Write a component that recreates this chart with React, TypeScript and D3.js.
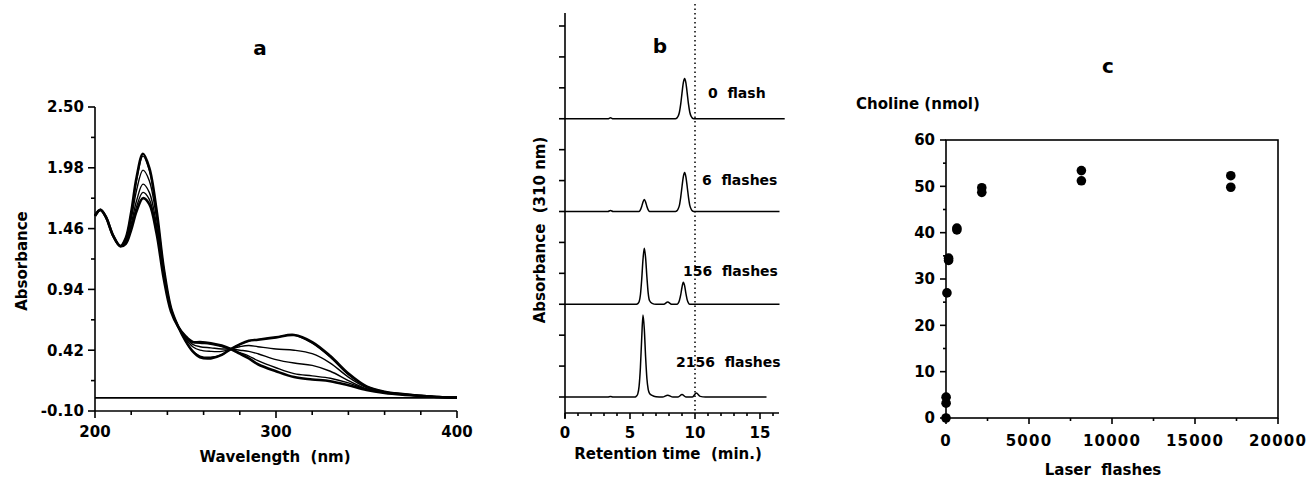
import React from 'react';
import * as d3 from 'd3';

// ---------- Panel a data (UV spectra) ----------
const wavelengths = [200, 203, 206, 210, 214, 217, 220, 223, 226.5, 230, 234, 238, 242, 246, 250, 254, 258, 264, 270, 275, 280, 285, 290, 300, 310, 320, 330, 340, 350, 360, 370, 380, 390, 400];
const spectrum0 = [1.57, 1.62, 1.56, 1.40, 1.31, 1.38, 1.60, 1.90, 2.10, 1.98, 1.62, 1.12, 0.78, 0.62, 0.50, 0.41, 0.36, 0.35, 0.38, 0.43, 0.47, 0.50, 0.51, 0.53, 0.55, 0.49, 0.37, 0.22, 0.11, 0.065, 0.045, 0.03, 0.02, 0.015];
const spectrum1 = [1.57, 1.62, 1.56, 1.40, 1.31, 1.38, 1.59, 1.88, 2.08, 1.96, 1.61, 1.12, 0.78, 0.62, 0.50, 0.41, 0.37, 0.36, 0.38, 0.43, 0.47, 0.50, 0.51, 0.53, 0.55, 0.48, 0.36, 0.21, 0.11, 0.065, 0.045, 0.03, 0.02, 0.015];
const spectrum2 = [1.57, 1.62, 1.56, 1.40, 1.31, 1.36, 1.54, 1.79, 1.96, 1.87, 1.55, 1.09, 0.77, 0.62, 0.52, 0.45, 0.42, 0.41, 0.41, 0.43, 0.45, 0.46, 0.45, 0.43, 0.42, 0.39, 0.31, 0.19, 0.10, 0.06, 0.042, 0.03, 0.02, 0.015];
const spectrum3 = [1.57, 1.62, 1.56, 1.40, 1.31, 1.35, 1.50, 1.70, 1.84, 1.77, 1.49, 1.06, 0.76, 0.62, 0.53, 0.47, 0.45, 0.44, 0.43, 0.43, 0.42, 0.41, 0.39, 0.34, 0.31, 0.29, 0.24, 0.16, 0.09, 0.058, 0.04, 0.03, 0.02, 0.015];
const spectrum4 = [1.57, 1.62, 1.56, 1.40, 1.31, 1.34, 1.47, 1.65, 1.77, 1.71, 1.45, 1.04, 0.76, 0.62, 0.54, 0.49, 0.48, 0.47, 0.45, 0.43, 0.40, 0.37, 0.33, 0.27, 0.22, 0.20, 0.18, 0.14, 0.085, 0.055, 0.04, 0.03, 0.02, 0.015];
const spectrum5 = [1.57, 1.62, 1.56, 1.40, 1.31, 1.33, 1.45, 1.61, 1.72, 1.67, 1.42, 1.03, 0.75, 0.62, 0.54, 0.49, 0.49, 0.48, 0.46, 0.43, 0.39, 0.35, 0.30, 0.24, 0.19, 0.17, 0.155, 0.12, 0.08, 0.055, 0.04, 0.03, 0.02, 0.015];
const spectra = [spectrum0, spectrum1, spectrum2, spectrum3, spectrum4, spectrum5];
const baselineA = 0.012;
const aYTicks = [-0.10, 0.42, 0.94, 1.46, 1.98, 2.50];
const aXTicks = [200, 300, 400];

// ---------- Panel b data (chromatograms, [min, absorbance]) ----------
const trace0flash = [[0, 0], [3.3, 0], [3.5, 0.03], [3.7, 0], [8.5, 0], [8.6, 0.02], [8.7, 0.08], [8.8, 0.21], [8.9, 0.47], [9.0, 0.83], [9.1, 1.16], [9.2, 1.30], [9.3, 1.16], [9.4, 0.83], [9.5, 0.47], [9.6, 0.21], [9.7, 0.08], [9.8, 0.02], [9.9, 0], [16.9, 0]];
const trace6flashes = [[0, 0], [3.3, 0], [3.5, 0.03], [3.7, 0], [5.7, 0], [5.8, 0.05], [5.9, 0.16], [6.0, 0.31], [6.1, 0.39], [6.2, 0.31], [6.3, 0.16], [6.4, 0.05], [6.5, 0], [8.5, 0], [8.6, 0.02], [8.7, 0.08], [8.8, 0.2], [8.9, 0.46], [9.0, 0.8], [9.1, 1.12], [9.2, 1.26], [9.3, 1.12], [9.4, 0.8], [9.5, 0.46], [9.6, 0.2], [9.7, 0.08], [9.8, 0.02], [9.9, 0], [16.5, 0]];
const trace156flashes = [[0, 0], [5.5, 0], [5.6, 0.02], [5.7, 0.08], [5.8, 0.3], [5.9, 0.8], [6.0, 1.45], [6.1, 1.81], [6.2, 1.5], [6.3, 0.88], [6.4, 0.36], [6.5, 0.12], [6.7, 0.03], [7.0, 0], [7.6, 0], [7.9, 0.07], [8.2, 0], [8.6, 0], [8.7, 0.03], [8.8, 0.12], [8.9, 0.3], [9.0, 0.55], [9.1, 0.71], [9.2, 0.6], [9.3, 0.35], [9.4, 0.14], [9.5, 0.04], [9.6, 0], [16.5, 0]];
const trace2156flashes = [[0, 0], [3.3, 0], [3.5, 0.02], [3.7, 0], [5.4, 0], [5.5, 0.03], [5.6, 0.1], [5.7, 0.35], [5.8, 0.95], [5.9, 1.9], [6.0, 2.65], [6.1, 2.2], [6.2, 1.3], [6.3, 0.6], [6.4, 0.25], [6.5, 0.12], [6.7, 0.05], [7.0, 0.01], [7.5, 0], [7.9, 0.06], [8.3, 0], [8.7, 0], [9.0, 0.08], [9.3, 0], [9.8, 0], [10.1, 0.13], [10.4, 0.02], [10.8, 0], [15.5, 0]];
const chromatograms = [trace0flash, trace6flashes, trace156flashes, trace2156flashes];
const chromOffsets = [9, 6, 3, 0];
const chromLabels = ['0  flash', '6  flashes', '156  flashes', '2156  flashes'];
const bXTicks = [0, 5, 10, 15];
const bYTicks = [0, 1, 2, 3, 4, 5, 6, 7, 8, 9, 10, 11, 12];
const dottedTime = 10;

// ---------- Panel c data (choline release) ----------
const laserFlashes = [0, 6, 6, 56, 156, 156, 656, 656, 2156, 2156, 8156, 8156, 17156, 17156];
const cholineNmol = [0, 3.2, 4.5, 27, 34.5, 34.0, 40.6, 41.0, 49.7, 48.7, 53.4, 51.2, 52.3, 49.8];
const cYTicks = [0, 10, 20, 30, 40, 50, 60];
const cXTicks = [0, 5000, 10000, 15000, 20000];

const FONT = '"DejaVu Sans", Verdana, sans-serif';
const txt = { fontFamily: FONT, fontWeight: 'bold' as const, fill: '#000' };

export default function App() {
  // Panel a scales
  const xA = d3.scaleLinear().domain([200, 400]).range([95, 457]);
  const yA = d3.scaleLinear().domain([-0.10, 2.50]).range([411, 107]);
  const lineA = d3.line<[number, number]>().x(d => xA(d[0])).y(d => yA(d[1])).curve(d3.curveCatmullRom.alpha(0.5));
  const aMinorX = d3.range(200, 401, 20);
  const aMinorY = d3.range(0, 11).map(i => -0.10 + i * 0.26);

  // Panel b scales
  const xB = d3.scaleLinear().domain([0, 15]).range([565, 760]);
  const yB = d3.scaleLinear().domain([0, 12]).range([397, 26]);
  const lineB = d3.line<number[]>().x(d => xB(d[0])).y(d => d[1]).curve(d3.curveMonotoneX);
  const bMinorX = d3.range(0, 17, 1);
  const bLabelPos = [[708, 98], [702, 185], [683, 276], [676, 367]];

  // Panel c scales
  const xC = d3.scaleLinear().domain([0, 20000]).range([946, 1278]);
  const yC = d3.scaleLinear().domain([0, 60]).range([418, 140]);
  const cMinorX = d3.range(0, 20001, 2500);
  const cMinorY = d3.range(0, 61, 5);

  const ax = { stroke: '#000', strokeWidth: 1.6, fill: 'none' };

  return (
    <svg width={1310} height={479} style={{ position: 'absolute', left: 0, top: 0, background: '#fff' }}>
      <rect x={0} y={0} width={1310} height={479} fill="#fff" />

      {/* ================= Panel a ================= */}
      <text x={260} y={55} textAnchor="middle" fontSize={20} style={txt}>a</text>
      {/* baseline */}
      <line x1={xA(200)} x2={xA(400)} y1={yA(baselineA)} y2={yA(baselineA)} stroke="#000" strokeWidth={1.6} />
      {spectra.map((s, i) => (
        <path key={i} d={lineA(wavelengths.map((w, j) => [w, s[j]] as [number, number])) || ''}
          fill="none" stroke="#000" strokeWidth={i === 0 || i === 5 ? 2.6 : 1.4} strokeLinejoin="round" />
      ))}
      {/* axes */}
      <line x1={xA(200)} x2={xA(200)} y1={yA(2.50)} y2={yA(-0.10)} {...ax} />
      <line x1={xA(200)} x2={xA(400)} y1={yA(-0.10)} y2={yA(-0.10)} {...ax} />
      {aMinorY.map((v, i) => (
        <line key={'amy' + i} x1={xA(200) - (i % 2 === 0 ? 7 : 4)} x2={xA(200)} y1={yA(v)} y2={yA(v)} {...ax} />
      ))}
      {aMinorX.map((v, i) => (
        <line key={'amx' + i} x1={xA(v)} x2={xA(v)} y1={yA(-0.10)} y2={yA(-0.10) + (v % 100 === 0 ? 7 : 4)} {...ax} />
      ))}
      {aYTicks.map(v => (
        <text key={'ayt' + v} x={84} y={yA(v)} dy="0.36em" textAnchor="end" fontSize={15} style={txt}>{v.toFixed(2)}</text>
      ))}
      {aXTicks.map(v => (
        <text key={'axt' + v} x={xA(v)} y={437} textAnchor="middle" fontSize={15} style={txt}>{v}</text>
      ))}
      <text x={275} y={462} textAnchor="middle" fontSize={15} style={{ ...txt, whiteSpace: 'pre' }}>{'Wavelength  (nm)'}</text>
      <text transform="translate(27,261) rotate(-90)" textAnchor="middle" fontSize={15} style={txt}>Absorbance</text>

      {/* ================= Panel b ================= */}
      <text x={660} y={53} textAnchor="middle" fontSize={20} style={txt}>b</text>
      <line x1={xB(dottedTime)} x2={xB(dottedTime)} y1={4} y2={411} stroke="#000" strokeWidth={1.5} strokeDasharray="1.5,3" />
      {chromatograms.map((tr, i) => (
        <path key={'tr' + i} d={lineB(tr.map(p => [p[0], yB(chromOffsets[i] + p[1])])) || ''}
          fill="none" stroke="#000" strokeWidth={1.5} strokeLinejoin="round" />
      ))}
      {chromLabels.map((l, i) => (
        <text key={'cl' + i} x={bLabelPos[i][0]} y={bLabelPos[i][1]} fontSize={14} style={{ ...txt, whiteSpace: 'pre' }}>{l}</text>
      ))}
      <line x1={xB(0)} x2={xB(0)} y1={13} y2={418} {...ax} />
      <line x1={xB(0)} x2={779} y1={413} y2={413} {...ax} />
      {bYTicks.map(v => (
        <line key={'byt' + v} x1={xB(0) - 6} x2={xB(0)} y1={yB(v)} y2={yB(v)} {...ax} />
      ))}
      {bMinorX.map(v => (
        <line key={'bmx' + v} x1={xB(v)} x2={xB(v)} y1={413} y2={413 + (v % 5 === 0 ? 6 : 3)} {...ax} />
      ))}
      {bXTicks.map(v => (
        <text key={'bxt' + v} x={xB(v)} y={438} textAnchor="middle" fontSize={15} style={txt}>{v}</text>
      ))}
      <text x={668} y={459} textAnchor="middle" fontSize={15} style={{ ...txt, whiteSpace: 'pre' }}>{'Retention time  (min.)'}</text>
      <text transform="translate(545,230) rotate(-90)" textAnchor="middle" fontSize={15} style={{ ...txt, whiteSpace: 'pre' }}>{'Absorbance  (310 nm)'}</text>

      {/* ================= Panel c ================= */}
      <text x={1108} y={73} textAnchor="middle" fontSize={20} style={txt}>c</text>
      <text x={856} y={109} fontSize={15} style={txt}>Choline (nmol)</text>
      <rect x={xC(0)} y={yC(60)} width={xC(20000) - xC(0)} height={yC(0) - yC(60)} {...ax} />
      {cMinorY.map(v => (
        <line key={'cmy' + v} x1={xC(0) - (v % 10 === 0 ? 6 : 3)} x2={xC(0)} y1={yC(v)} y2={yC(v)} {...ax} />
      ))}
      {cMinorX.map(v => (
        <line key={'cmx' + v} x1={xC(v)} x2={xC(v)} y1={yC(0)} y2={yC(0) + (v % 5000 === 0 ? 6 : 3)} {...ax} />
      ))}
      {cYTicks.map(v => (
        <text key={'cyt' + v} x={935} y={yC(v)} dy="0.36em" textAnchor="end" fontSize={15} style={txt}>{v}</text>
      ))}
      {cXTicks.map(v => (
        <text key={'cxt' + v} x={xC(v)} y={446} textAnchor="middle" fontSize={15} letterSpacing={1.2} style={txt}>{v}</text>
      ))}
      <text x={1103} y={475} textAnchor="middle" fontSize={15} style={{ ...txt, whiteSpace: 'pre' }}>{'Laser  flashes'}</text>
      {laserFlashes.map((f, i) => (
        <circle key={'pt' + i} cx={xC(f)} cy={yC(cholineNmol[i])} r={4.8} fill="#000" />
      ))}
    </svg>
  );
}
